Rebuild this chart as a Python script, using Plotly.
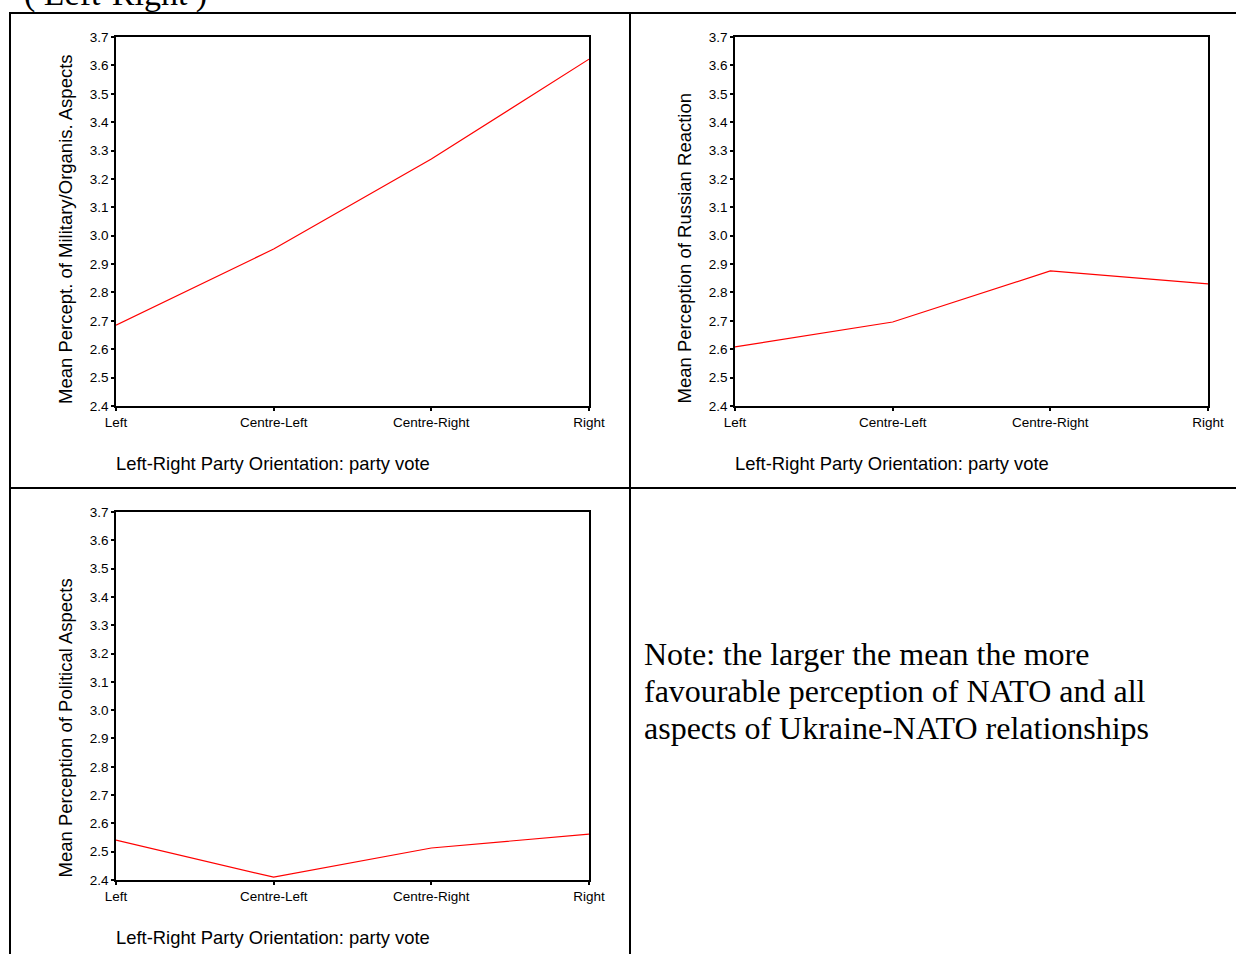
import plotly.graph_objects as go

W, H = 1236, 954

categories = ["Left", "Centre-Left", "Centre-Right", "Right"]
military_org = [2.685, 2.953, 3.270, 3.622]
russian_reaction = [2.608, 2.696, 2.876, 2.830]
political = [2.541, 2.410, 2.513, 2.562]
y_ticks = [2.4, 2.5, 2.6, 2.7, 2.8, 2.9, 3.0, 3.1, 3.2, 3.3, 3.4, 3.5, 3.6, 3.7]
y_titles = ["Mean Percept. of Military/Organis. Aspects",
            "Mean Perception of Russian Reaction",
            "Mean Perception of Political Aspects"]
x_title = "Left-Right Party Orientation: party vote"
note_lines = ["Note: the larger the mean the more",
              "favourable perception of NATO and all",
              "aspects of Ukraine-NATO relationships"]
top_text = "( Left-Right )"


def px(x):
    return x / W


def py(y):
    return 1 - y / H


# panel pixel boxes: (left, right, top, bottom)
panels = [(116, 589, 37, 406), (735, 1208, 37, 406), (116, 589, 512, 880)]
series = [military_org, russian_reaction, political]

fig = go.Figure()
annotations = []
shapes = []
sans = "Liberation Sans, Arial, sans-serif"
serif = "Liberation Serif, Times New Roman, serif"

for i, ((l, r, t, b), vals, yt) in enumerate(zip(panels, series, y_titles)):
    n = "" if i == 0 else str(i + 1)
    xa, ya = "x" + n, "y" + n
    fig.add_trace(go.Scatter(x=list(range(len(categories))), y=vals, mode="lines",
                             line=dict(color="#ff0000", width=1.2),
                             xaxis=xa, yaxis=ya, showlegend=False, hoverinfo="skip"))
    axis_common = dict(showgrid=False, zeroline=False, showline=True, linecolor="black",
                       linewidth=1.5, mirror=True, ticks="outside", ticklen=3, tickwidth=2,
                       tickcolor="black", automargin=False,
                       tickfont=dict(family=sans, size=13.5, color="black"))
    fig.update_layout(**{
        "xaxis" + n: dict(domain=[px(l), px(r)], range=[0, 3], anchor=ya,
                          tickvals=list(range(len(categories))), ticktext=categories,
                          **axis_common),
        "yaxis" + n: dict(domain=[py(b), py(t)], range=[2.4, 3.7], anchor=xa,
                          tickvals=y_ticks, ticktext=[f"{v:.1f}" for v in y_ticks],
                          **axis_common),
    })
    annotations.append(dict(text=yt, xref="paper", yref="paper", x=px(l - 51), y=py(b),
                            xanchor="center", yanchor="bottom", textangle=-90, showarrow=False,
                            font=dict(family=sans, size=18.5, color="black")))
    annotations.append(dict(text=x_title, xref="paper", yref="paper", x=px(l - 2), y=py(b + 57),
                            xanchor="left", yanchor="middle", showarrow=False,
                            font=dict(family=sans, size=18.4, color="black")))

for k, line in enumerate(note_lines):
    annotations.append(dict(text=line, xref="paper", yref="paper", x=px(642), y=py(654 + 37 * k),
                            xanchor="left", yanchor="middle", align="left", showarrow=False,
                            font=dict(family=serif, size=32, color="black")))
annotations.append(dict(text=top_text, xref="paper", yref="paper", x=px(22), y=py(15),
                        xanchor="left", yanchor="bottom", align="left", showarrow=False,
                        font=dict(family=serif, size=34, color="black")))

# table borders
lw = 2
shapes += [
    dict(type="line", xref="paper", yref="paper", x0=px(10), x1=px(10), y0=py(13), y1=py(960),
         line=dict(color="black", width=lw)),
    dict(type="line", xref="paper", yref="paper", x0=px(630), x1=px(630), y0=py(13), y1=py(960),
         line=dict(color="black", width=lw)),
    dict(type="line", xref="paper", yref="paper", x0=px(9), x1=px(1240), y0=py(13), y1=py(13),
         line=dict(color="black", width=lw)),
    dict(type="line", xref="paper", yref="paper", x0=px(9), x1=px(1240), y0=py(488), y1=py(488),
         line=dict(color="black", width=lw)),
]

fig.update_layout(width=W, height=H,
                  margin=dict(l=0, r=0, t=0, b=0, pad=0, autoexpand=False),
                  paper_bgcolor="white", plot_bgcolor="white",
                  annotations=annotations, shapes=shapes)

fig.write_html("out.html", config={"displayModeBar": False},
               post_script="document.body.style.margin='0';document.body.style.overflow='hidden';")
